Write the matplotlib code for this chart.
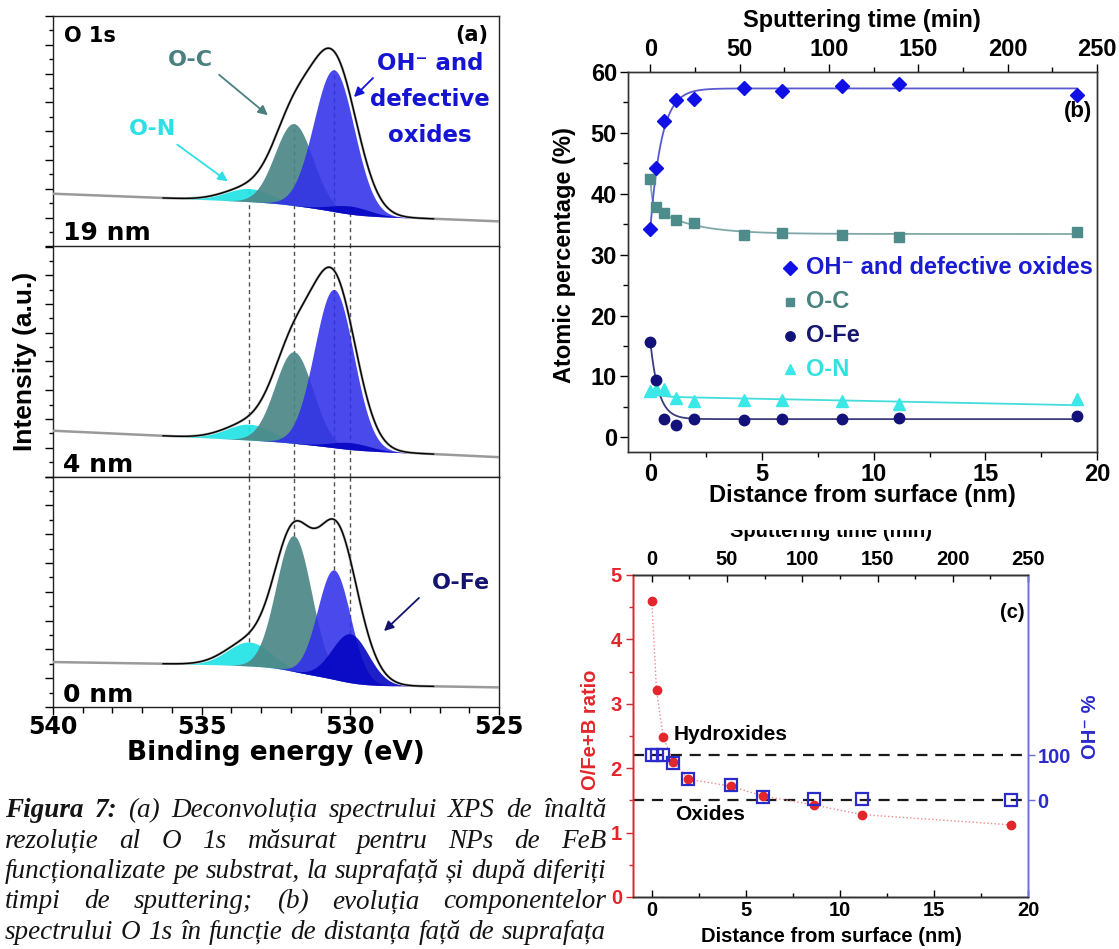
import numpy as np
import matplotlib
matplotlib.use("Agg")
import matplotlib.pyplot as plt
from matplotlib.ticker import MultipleLocator
from matplotlib.lines import Line2D
from matplotlib.patches import Rectangle, FancyArrowPatch
from matplotlib.transforms import IdentityTransform

W, H = 1119, 949
fig = plt.figure(figsize=(W / 100, H / 100), dpi=100)
fig.patch.set_facecolor("white")


def fx(px):
    return px / W


def fy(py):
    return 1 - py / H


def box(left, top, right, bottom):
    return [fx(left), fy(bottom), (right - left) / W, (bottom - top) / H]


WIDE = "DejaVu Sans"
ARIAL = "Liberation Sans"
SERIF = "Liberation Serif"

# ---------------- (a) O 1s deconvolution ----------------
depth_labels = ["19 nm", "4 nm", "0 nm"]
component_names = ["O-N", "O-C", "OH", "O-Fe"]
component_centers = [533.4, 531.9, 530.55, 530.0]  # binding energy, eV
heights_19nm = [0.057, 0.355, 0.615, 0.035]
heights_4nm = [0.069, 0.398, 0.688, 0.030]
heights_0nm = [0.104, 0.589, 0.475, 0.212]
fwhm_19nm = [1.8, 1.5, 1.6, 1.6]
fwhm_4nm = [1.8, 1.5, 1.55, 1.6]
fwhm_0nm = [1.7, 1.4, 1.3, 1.45]
background_base = [0.139, 0.120, 0.097]
background_step = [0.045, 0.025, 0.080]
background_tilt = [0.005, 0.006, 0.002]
envelope_broadening = 1.09
component_colors = ["#22E3E6", "#4D8787", "#3030EA", "#0606C2"]
component_alpha = [0.92, 0.92, 0.88, 0.9]
be_ticks = [540, 535, 530, 525]

panel_tops = [16, 246.5, 476.5]
panel_bottoms = [246.5, 476.5, 707]
depth_baselines = [240, 471.5, 701.5]

E = np.linspace(525, 540, 1501)
K = 4 * np.log(2)

all_heights = [heights_19nm, heights_4nm, heights_0nm]
all_fwhm = [fwhm_19nm, fwhm_4nm, fwhm_0nm]

for i in range(3):
    ax = fig.add_axes(box(53, panel_tops[i], 499, panel_bottoms[i]))
    ax.set_xlim(540, 525)
    ax.set_ylim(0, 1)
    heights, widths = all_heights[i], all_fwhm[i]
    comps = [h * np.exp(-K * ((E - c) / w) ** 2)
             for h, c, w in zip(heights, component_centers, widths)]
    total = np.sum(comps, axis=0)
    cum = np.cumsum(total)
    shirley = cum / cum[-1]
    bg = background_base[i] + background_step[i] * shirley + background_tilt[i] * (E - 531)
    env = bg + np.sum([h * np.exp(-K * ((E - c) / (envelope_broadening * w)) ** 2)
                       for h, c, w in zip(heights, component_centers, widths)], axis=0)

    # guide lines at the component positions
    for c, h in zip(component_centers, heights):
        top = np.interp(c, E, bg) + h
        if i == 0:
            y0, y1 = 0, top
        elif i == 1:
            y0, y1 = 0, 1
        else:
            y0, y1 = top, 1
        ax.plot([c, c], [y0, y1], color="#505050", lw=1.0, ls=(0, (3, 2.5)), zorder=1)

    for comp, col, al in zip(comps, component_colors, component_alpha):
        ax.fill_between(E, bg, bg + comp, color=col, alpha=al, lw=0, zorder=2)

    ax.plot(E, env, color="#9A9A9A", lw=1.8, zorder=3)
    fit = (E >= 527.2) & (E <= 536.3)
    ax.plot(E[fit], env[fit], color="black", lw=1.0, zorder=4)

    ax.yaxis.set_major_locator(MultipleLocator(0.125))
    ax.yaxis.set_minor_locator(MultipleLocator(0.0625))
    ax.tick_params(axis="y", which="both", direction="out", left=True, right=False,
                   labelleft=False)
    ax.tick_params(axis="y", which="major", length=6, width=1)
    ax.tick_params(axis="y", which="minor", length=3, width=1)
    if i < 2:
        ax.tick_params(axis="x", which="both", bottom=False, top=False, labelbottom=False)
    else:
        ax.set_xticks(be_ticks, labels=[str(v) for v in be_ticks], fontsize=17,
                      fontweight="bold", family=WIDE)
        ax.xaxis.set_minor_locator(MultipleLocator(1))
        ax.tick_params(axis="x", which="both", direction="out", top=False, pad=0)
        ax.tick_params(axis="x", which="major", length=6, width=1)
        ax.tick_params(axis="x", which="minor", length=4, width=1)
    for s in ax.spines.values():
        s.set_linewidth(1.0)
        s.set_color("#222222")

    fig.text(fx(63), fy(depth_baselines[i]), depth_labels[i], fontsize=18,
             fontweight="bold", family=WIDE, va="baseline", ha="left")

fig.text(fx(64), fy(36), "O 1s", fontsize=15, fontweight="bold", family=WIDE,
         va="center", ha="left")
fig.text(fx(472), fy(35), "(a)", fontsize=15, fontweight="bold", family=WIDE,
         va="center", ha="center")
fig.text(fx(190), fy(60), "O-C", fontsize=16, fontweight="bold", family=WIDE,
         color="#4A8080", va="center", ha="center")
fig.text(fx(152), fy(129), "O-N", fontsize=16, fontweight="bold", family=WIDE,
         color="#2EE0E6", va="center", ha="center")
for txt, ypx in zip(["OH\u207b and", "defective", "oxides"], [63, 100, 135]):
    fig.text(fx(430), fy(ypx), txt, fontsize=16.5, fontweight="bold", family=WIDE,
             color="#1414D2", va="center", ha="center")
fig.text(fx(461), fy(583), "O-Fe", fontsize=16, fontweight="bold", family=WIDE,
         color="#14146E", va="center", ha="center")

arrows_a = [((217, 73), (270, 117), "#4A8080"),
            ((175, 143), (230, 183), "#2EE0E6"),
            ((375, 76), (352, 99), "#1414D2"),
            ((421, 596), (382, 633), "#14146E")]
for (x0, y0), (x1, y1), col in arrows_a:
    fig.add_artist(FancyArrowPatch((fx(x0), fy(y0)), (fx(x1), fy(y1)),
                                   transform=fig.transFigure, arrowstyle="-|>",
                                   mutation_scale=14, lw=1.3, color=col))

fig.text(fx(25), fy(361), "Intensity (a.u.)", rotation=90, fontsize=19,
         fontweight="bold", family=ARIAL, va="center", ha="center")
fig.text(fx(276), fy(753), "Binding energy (eV)", fontsize=19, fontweight="bold",
         family=WIDE, va="center", ha="center")

# ---------------- (b) atomic percentage vs depth ----------------
distance_nm = [0, 0.25, 0.6, 1.15, 1.95, 4.2, 5.9, 8.6, 11.15, 19.1]
oh_defective_pct = [34.3, 44.2, 52.0, 55.4, 55.5, 57.3, 56.9, 57.7, 58.1, 56.2]
o_c_pct = [42.4, 37.9, 36.9, 35.7, 35.2, 33.3, 33.6, 33.2, 32.9, 33.7]
o_fe_pct = [15.7, 9.5, 3.1, 2.1, 3.0, 2.8, 3.1, 3.0, 3.2, 3.5]
o_n_pct = [7.6, 7.9, 7.9, 6.5, 6.0, 6.2, 6.1, 5.9, 5.5, 6.3]

# exponential fits: plateau, amplitude(s), decay length(s) in nm
oh_fit = (57.3, 23.0, 0.5)
o_c_fit = (33.4, 4.6, 1.7, 4.4, 0.08)
o_fe_fit = (3.0, 12.7, 0.37)
o_n_fit = (6.7, -0.074, 1.1, 0.3)

series_labels = ["OH\u207b and defective oxides", "O-C", "O-Fe", "O-N"]
marker_colors = ["#0F0FE6", "#4E8B8B", "#12127A", "#3AE8E8"]
text_colors = ["#1A1AD0", "#4A8282", "#16166E", "#33E0E0"]
line_colors = ["#5A5ACF", "#80A8A8", "#3C3C7E", "#45DCDC"]
markers = ["D", "s", "o", "^"]
marker_sizes = [7.5, 7, 7.5, 8]

ax_b = fig.add_axes(box(628, 72, 1097, 452))
ax_b.set_xlim(-1, 20)
ax_b.set_ylim(-2.4, 60)

xf = np.linspace(0, distance_nm[-1], 500)
fits = [
    oh_fit[0] - oh_fit[1] * np.exp(-xf / oh_fit[2]),
    o_c_fit[0] + o_c_fit[1] * np.exp(-xf / o_c_fit[2]) + o_c_fit[3] * np.exp(-xf / o_c_fit[4]),
    o_fe_fit[0] + o_fe_fit[1] * np.exp(-xf / o_fe_fit[2]),
    o_n_fit[0] + o_n_fit[1] * xf + o_n_fit[2] * np.exp(-xf / o_n_fit[3]),
]
series = [oh_defective_pct, o_c_pct, o_fe_pct, o_n_pct]
for k in [3, 2, 1, 0]:
    ax_b.plot(xf, fits[k], color=line_colors[k], lw=1.3, zorder=2)
    ax_b.plot(distance_nm, series[k], ls="none", marker=markers[k], ms=marker_sizes[k],
              color=marker_colors[k], mec=marker_colors[k], zorder=3 + (3 - k))

b_font = dict(fontsize=17, fontweight="bold", family=ARIAL)
ax_b.set_xticks([0, 5, 10, 15, 20], labels=["0", "5", "10", "15", "20"], **b_font)
ax_b.set_yticks([0, 10, 20, 30, 40, 50, 60],
                labels=["0", "10", "20", "30", "40", "50", "60"], **b_font)
ax_b.xaxis.set_minor_locator(MultipleLocator(2.5))
ax_b.yaxis.set_minor_locator(MultipleLocator(5))
ax_b.tick_params(which="both", direction="out", top=False, right=False, width=1)
ax_b.tick_params(which="major", length=6, pad=2)
ax_b.tick_params(which="minor", length=3.5)

ax_bt = ax_b.twiny()
ax_bt.set_xlim(-12.5, 250)
ax_bt.set_xticks([0, 50, 100, 150, 200, 250],
                 labels=["0", "50", "100", "150", "200", "250"], **b_font)
ax_bt.xaxis.set_minor_locator(MultipleLocator(25))
ax_bt.tick_params(which="both", direction="out", width=1)
ax_bt.tick_params(which="major", length=6, pad=2)
ax_bt.tick_params(which="minor", length=3.5)
for a in (ax_b, ax_bt):
    for s in a.spines.values():
        s.set_linewidth(1.0)
        s.set_color("#333333")

fig.text(fx(862), fy(21), "Sputtering time (min)", va="center", ha="center", **b_font)
fig.text(fx(862), fy(496), "Distance from surface (nm)", va="center", ha="center", **b_font)
fig.text(fx(564), fy(255), "Atomic percentage (%)", rotation=90, va="center",
         ha="center", **b_font)
fig.text(fx(1078), fy(112), "(b)", va="center", ha="center", fontsize=16,
         fontweight="bold", family=ARIAL)

legend_rows = [268, 302, 336, 369]
for k, ypx in enumerate(legend_rows):
    fig.add_artist(Line2D([fx(790)], [fy(ypx)], transform=fig.transFigure, ls="none",
                          marker=markers[k], ms=marker_sizes[k] * 0.9,
                          color=marker_colors[k]))
    fig.text(fx(806), fy(ypx), series_labels[k], va="center", ha="left",
             color=text_colors[k], fontsize=17, fontweight="bold",
             family=[ARIAL, WIDE])

# ---------------- (c) O/(Fe+B) ratio and hydroxide fraction ----------------
ratio_o_fe_b = [4.60, 3.21, 2.49, 2.09, 1.83, 1.72, 1.57, 1.43, 1.28, 1.12]
oh_fraction_pct = [100, 100, 100, 83, 48, 34, 7, 4, 2, 0]
hydroxide_ratio = 2.2
oxide_ratio = 1.5

red = "#E3262B"
blue = "#2B2BCC"
ax_c = fig.add_axes(box(633, 575, 1028, 897))
ax_c.set_xlim(-1, 20)
ax_c.set_ylim(0, 5)
for level in (hydroxide_ratio, oxide_ratio):
    ax_c.axhline(level, color="#1A1A1A", lw=1.6, ls=(0, (5, 3.5)), zorder=2)
ax_c.plot(distance_nm, ratio_o_fe_b, color="#F08A8A", lw=1.0, ls=":", zorder=3)
ax_c.plot(distance_nm, ratio_o_fe_b, ls="none", marker="o", ms=6, color=red, zorder=5)

c_font = dict(fontsize=14.5, fontweight="bold", family=ARIAL)
ax_c.set_xticks([0, 5, 10, 15, 20], labels=["0", "5", "10", "15", "20"], **c_font)
ax_c.set_yticks([0, 1, 2, 3, 4, 5], labels=["0", "1", "2", "3", "4", "5"],
                color=red, **c_font)
ax_c.xaxis.set_minor_locator(MultipleLocator(2.5))
ax_c.yaxis.set_minor_locator(MultipleLocator(0.5))
ax_c.tick_params(axis="x", which="both", direction="in", top=False, width=1)
ax_c.tick_params(axis="y", which="both", direction="out", right=False, width=1,
                 color=red)
ax_c.tick_params(which="major", length=5, pad=3)
ax_c.tick_params(which="minor", length=3)

ax_cr = ax_c.twinx()
span = hydroxide_ratio - oxide_ratio
ax_cr.set_ylim((0 - oxide_ratio) / span * 100, (5 - oxide_ratio) / span * 100)
ax_cr.plot(distance_nm, oh_fraction_pct, ls="none", marker="s", ms=9, mfc="none",
           mec=blue, mew=1.6, zorder=4)
ax_cr.set_yticks([0, 100], labels=["0", "100"], color=blue, **c_font)
ax_cr.tick_params(axis="y", which="both", direction="out", width=1, length=5,
                  color="#6A6AE0", pad=2)

ax_ct = ax_c.twiny()
ax_ct.set_xlim(-12.5, 250)
ax_ct.set_xticks([0, 50, 100, 150, 200, 250],
                 labels=["0", "50", "100", "150", "200", "250"], **c_font)
ax_ct.xaxis.set_minor_locator(MultipleLocator(25))
ax_ct.tick_params(which="both", direction="in", width=1)
ax_ct.tick_params(which="major", length=5, pad=4)
ax_ct.tick_params(which="minor", length=3)

for a in (ax_c, ax_cr, ax_ct):
    for s in a.spines.values():
        s.set_linewidth(1.0)
        s.set_color("#333333")
    a.spines["left"].set_color(red)
    a.spines["right"].set_color("#7070E0")

fig.text(fx(731), fy(735), "Hydroxides", va="center", ha="center", fontsize=15,
         fontweight="bold", family=ARIAL)
fig.text(fx(710), fy(815), "Oxides", va="center", ha="center", fontsize=15,
         fontweight="bold", family=ARIAL)
fig.text(fx(1012), fy(613), "(c)", va="center", ha="center", **c_font)
fig.text(fx(831), fy(937), "Distance from surface (nm)", va="center", ha="center",
         **c_font)
fig.text(fx(590), fy(730), "O/Fe+B ratio", rotation=90, va="center", ha="center",
         color=red, **c_font)
fig.text(fx(1090), fy(727), "OH\u207b %", rotation=90, va="center", ha="center",
         color=blue, fontsize=14.5, fontweight="bold", family=[ARIAL, WIDE])
fig.text(fx(831), fy(537), "Sputtering time (min)", va="baseline", ha="center",
         **c_font)
fig.add_artist(Rectangle((fx(690), fy(530)), fx(990) - fx(690), fy(509) - fy(530),
                         transform=fig.transFigure, facecolor="white",
                         edgecolor="none", zorder=10))

# ---------------- caption ----------------
caption_lines = [
    "Figura 7: (a) Deconvoluția spectrului XPS de înaltă",
    "rezoluție al O 1s măsurat pentru NPs de FeB",
    "funcționalizate pe substrat, la suprafață și după diferiți",
    "timpi de sputtering; (b) evoluția componentelor",
    "spectrului O 1s în funcție de distanța față de suprafața",
]
caption_baselines = [817, 847.5, 878, 908.5, 939]
cap_left, cap_right = 5, 606

renderer = fig.canvas.get_renderer()
ident = IdentityTransform()
word_texts = []
for i, line in enumerate(caption_lines):
    row = []
    for j, w in enumerate(line.split()):
        bold = (i == 0 and j < 2)
        t = fig.text(0, H - caption_baselines[i], w, transform=ident, fontsize=16,
                     family=SERIF, style="italic",
                     fontweight="bold" if bold else "normal",
                     color="#141414", va="baseline", ha="left")
        row.append(t)
    word_texts.append(row)

probe = fig.text(0, 0, "a a", transform=ident, fontsize=16, family=SERIF, style="italic")
probe2 = fig.text(0, 0, "aa", transform=ident, fontsize=16, family=SERIF, style="italic")
space_w = probe.get_window_extent(renderer).width - probe2.get_window_extent(renderer).width
probe.remove()
probe2.remove()

naturals = []
for row in word_texts:
    widths = [t.get_window_extent(renderer).width for t in row]
    naturals.append(sum(widths) + space_w * (len(row) - 1))
target = cap_right - cap_left
scale = target / max(naturals)
for row in word_texts:
    for t in row:
        t.set_fontsize(16 * scale)

for i, row in enumerate(word_texts):
    widths = [t.get_window_extent(renderer).width for t in row]
    gap = (target - sum(widths)) / (len(row) - 1)
    x = cap_left
    for t, w in zip(row, widths):
        t.set_x(x)
        x += w + gap

fig.savefig("out.png", dpi=100, facecolor="white")
